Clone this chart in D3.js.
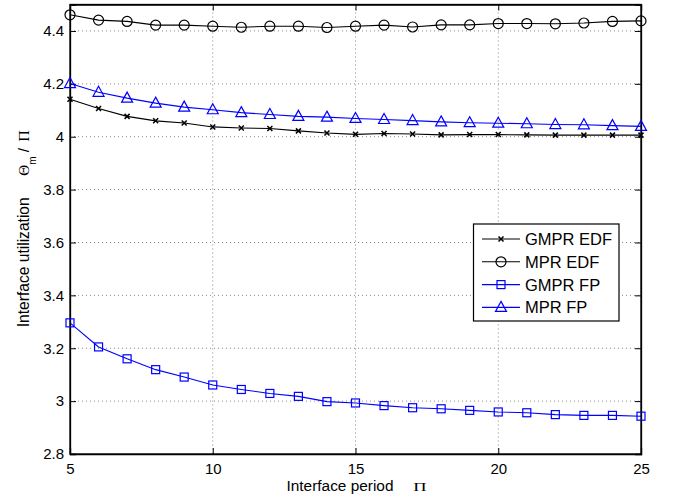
<!DOCTYPE html>
<html><head><meta charset="utf-8">
<script src="https://cdn.jsdelivr.net/npm/d3@7"></script>
<style>body{margin:0;background:#fff;} svg{display:block;}</style>
</head><body>
<svg id="c" width="675" height="497"></svg>
<script>
const periods = [5,6,7,8,9,10,11,12,13,14,15,16,17,18,19,20,21,22,23,24,25];
const gmprEdf = [4.142,4.107,4.077,4.060,4.052,4.037,4.033,4.031,4.022,4.014,4.009,4.012,4.010,4.007,4.008,4.008,4.007,4.006,4.006,4.006,4.006];
const mprEdf  = [4.461,4.441,4.436,4.422,4.422,4.418,4.414,4.418,4.418,4.413,4.418,4.422,4.415,4.423,4.423,4.428,4.428,4.427,4.430,4.436,4.438];
const gmprFp  = [3.296,3.205,3.160,3.119,3.091,3.061,3.044,3.029,3.018,2.998,2.993,2.983,2.975,2.971,2.965,2.959,2.956,2.949,2.946,2.946,2.943];
const mprFp   = [4.201,4.168,4.146,4.127,4.112,4.102,4.091,4.084,4.077,4.074,4.069,4.065,4.061,4.056,4.053,4.051,4.049,4.046,4.045,4.042,4.039];
const xTicks = [5,10,15,20,25];
const yTicks = [2.8,3,3.2,3.4,3.6,3.8,4,4.2,4.4];
const seriesNames = ["GMPR EDF","MPR EDF","GMPR FP","MPR FP"];

const series = [
  {name:seriesNames[0], vals:gmprEdf, color:"#000", marker:"x"},
  {name:seriesNames[1], vals:mprEdf, color:"#000", marker:"circle"},
  {name:seriesNames[2], vals:gmprFp, color:"#0000ff", marker:"square"},
  {name:seriesNames[3], vals:mprFp, color:"#0000ff", marker:"triangle"}
];

const L=70, R=641, T=4.5, B=454;
const svg = d3.select("#c");
const x = d3.scaleLinear().domain([5,25]).range([L,R]);
const y = d3.scaleLinear().domain([2.8,4.5]).range([B,T]);
const font = "'Liberation Sans', Arial, Helvetica, sans-serif";
const serif = "'Liberation Serif','Times New Roman',serif";

// grid
const g = svg.append("g");
g.selectAll(".gx").data(xTicks.slice(1,-1)).enter().append("line")
  .attr("x1",d=>x(d)).attr("x2",d=>x(d)).attr("y1",T).attr("y2",B)
  .attr("stroke","#888").attr("stroke-width",1).attr("stroke-dasharray","1,3");
g.selectAll(".gy").data(yTicks.slice(1)).enter().append("line")
  .attr("y1",d=>y(d)).attr("y2",d=>y(d)).attr("x1",L).attr("x2",R)
  .attr("stroke","#888").attr("stroke-width",1).attr("stroke-dasharray","1,3");

// axes with inward ticks
const xb = svg.append("g").attr("transform",`translate(0,${B})`)
  .call(d3.axisBottom(x).tickValues(xTicks).tickSize(-6).tickPadding(9).tickFormat(d3.format("d")));
const xt = svg.append("g").attr("transform",`translate(0,${T})`)
  .call(d3.axisTop(x).tickValues(xTicks).tickSize(-6).tickFormat(""));
const yl = svg.append("g").attr("transform",`translate(${L},0)`)
  .call(d3.axisLeft(y).tickValues(yTicks).tickSize(-6).tickPadding(6).tickFormat(d=>String(+d.toFixed(1))));
const yr = svg.append("g").attr("transform",`translate(${R},0)`)
  .call(d3.axisRight(y).tickValues(yTicks).tickSize(-6).tickFormat(""));
[xb,xt,yl,yr].forEach(a=>{
  a.selectAll("path.domain").attr("stroke","#000").attr("stroke-width",1.3);
  a.selectAll(".tick line").attr("stroke","#000").attr("stroke-width",1);
  a.selectAll(".tick text").attr("fill","#000").style("font-family",font).style("font-size","15px");
});
svg.append("rect").attr("x",L).attr("y",T).attr("width",R-L).attr("height",B-T)
  .attr("fill","none").attr("stroke","#000").attr("stroke-width",1.3);

// markers
function drawMarker(sel, type, color){
  if(type==="x"){
    sel.append("path").attr("d","M-2.5,-2.5L2.5,2.5M-2.5,2.5L2.5,-2.5").attr("stroke",color).attr("stroke-width",1.5);
  } else if(type==="circle"){
    sel.append("circle").attr("r",5).attr("fill","none").attr("stroke",color).attr("stroke-width",1.2);
  } else if(type==="square"){
    sel.append("rect").attr("x",-4).attr("y",-4).attr("width",8).attr("height",8).attr("fill","none").attr("stroke",color).attr("stroke-width",1.2);
  } else if(type==="triangle"){
    sel.append("path").attr("d","M0,-6L5.5,4L-5.5,4Z").attr("fill","none").attr("stroke",color).attr("stroke-width",1.2);
  }
}

const line = d3.line().x(d=>x(d[0])).y(d=>y(d[1]));
series.forEach(s=>{
  const pts = periods.map((p,i)=>[p,s.vals[i]]);
  svg.append("path").attr("d",line(pts)).attr("fill","none").attr("stroke",s.color).attr("stroke-width",1.1);
  pts.forEach(p=>{
    const m = svg.append("g").attr("transform",`translate(${x(p[0])},${y(p[1])})`);
    drawMarker(m, s.marker, s.color);
  });
});

// legend
const lg = svg.append("g");
lg.append("rect").attr("x",473.5).attr("y",224).attr("width",145.5).attr("height",97)
  .attr("fill","#fff").attr("stroke","#000").attr("stroke-width",1.2);
series.forEach((s,i)=>{
  const yy = 239 + i*22.8;
  lg.append("line").attr("x1",482).attr("x2",520).attr("y1",yy).attr("y2",yy).attr("stroke",s.color).attr("stroke-width",1.1);
  const m = lg.append("g").attr("transform",`translate(501,${yy})`);
  drawMarker(m, s.marker, s.color);
  lg.append("text").attr("x",525).attr("y",yy+6).text(s.name)
    .style("font-family",font).style("font-size","16.5px").attr("fill","#000");
});

// x label
const xlab = svg.append("text").attr("x",286.5).attr("y",491)
  .style("font-family",font).style("font-size","15.4px").attr("fill","#000");
xlab.append("tspan").text("Interface period");
xlab.append("tspan").attr("x",413.3).style("font-family",serif).style("font-size","13.5px")
  .attr("textLength",13.3).attr("lengthAdjust","spacingAndGlyphs").text("Π");

// y label
const ylab = svg.append("text").attr("transform","translate(29,327.3) rotate(-90)")
  .style("font-family",font).style("font-size","15.6px").attr("fill","#000");
ylab.append("tspan").text("Interface utilization");
ylab.append("tspan").attr("x",151.6).style("font-family",serif).style("font-size","15px").text("Θ");
ylab.append("tspan").attr("dy",7).style("font-size","10px").text("m");
ylab.append("tspan").attr("x",175).attr("dy",-7).style("font-size","15px").text("/");
ylab.append("tspan").attr("x",185.6).style("font-family",serif).style("font-size","15px")
  .attr("textLength",11.7).attr("lengthAdjust","spacingAndGlyphs").text("Π");
</script>
</body></html>
